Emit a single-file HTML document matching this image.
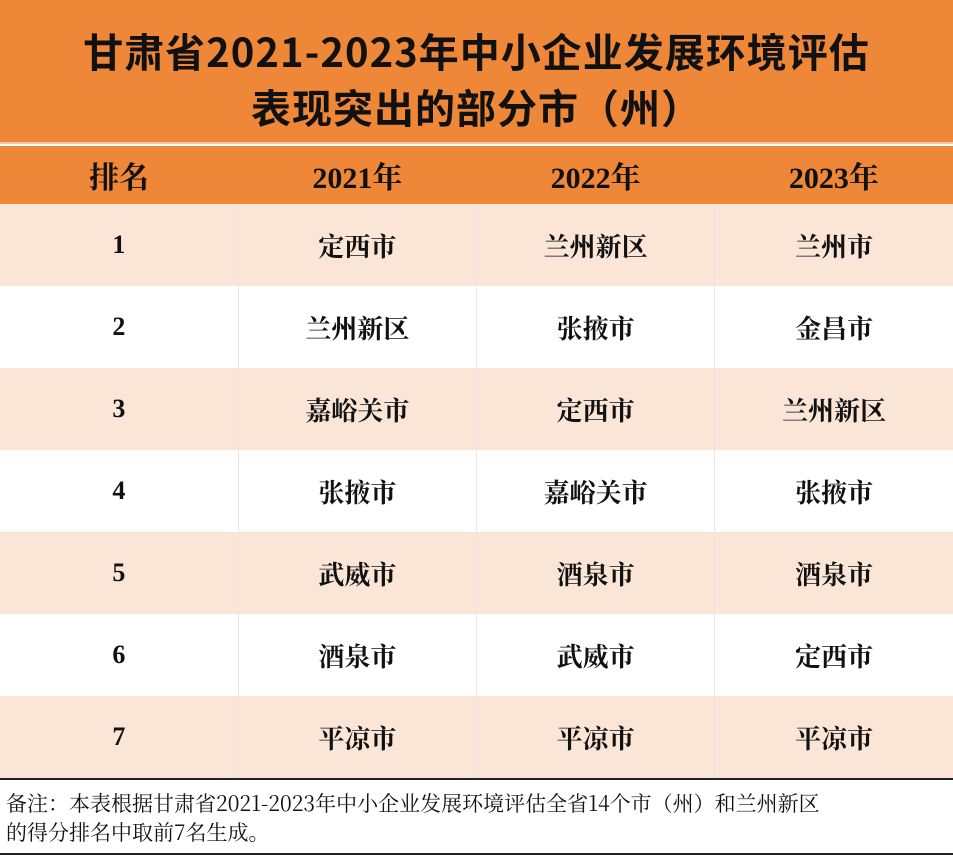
<!DOCTYPE html>
<html><head><meta charset="utf-8"><style>
body{margin:0;width:953px;height:857px;background:#fff;overflow:hidden;font-family:"Liberation Serif","Noto Serif CJK SC",serif}
.title{position:absolute;left:0;top:0;width:953px;height:144px;background:#EF8739;color:#111;font-family:"Noto Sans CJK SC",sans-serif;font-weight:bold;font-size:40px;text-align:center;line-height:56px;padding-top:22px;box-sizing:border-box;border-bottom:2px solid #f6c9a4;letter-spacing:1px}
table{position:absolute;left:0;top:146px;width:953px;border-collapse:collapse;table-layout:fixed}
td,th{text-align:center;font-weight:bold;color:#111;padding:0}
th{height:58px;background:#EF8739;font-size:30px}
td{height:82px;font-size:26px;border-left:1px solid #e6e6e6}
td:first-child{border-left:none}
tr.odd td{background:#FBE5D7}
.note{position:absolute;left:0;top:778px;width:953px;height:77px;border-top:2px solid #222;border-bottom:2px solid #222;font-family:"Noto Serif CJK SC",serif;font-size:21px;line-height:29px;padding:9px 0 0 6px;box-sizing:border-box;color:#111;white-space:nowrap}
</style></head><body>
<div class="title">甘肃省2021-2023年中小企业发展环境评估<br>表现突出的部分市（州）</div>
<table>
<tr><th>排名</th><th>2021年</th><th>2022年</th><th>2023年</th></tr>
<tr class="odd"><td>1</td><td>定西市</td><td>兰州新区</td><td>兰州市</td></tr>
<tr><td>2</td><td>兰州新区</td><td>张掖市</td><td>金昌市</td></tr>
<tr class="odd"><td>3</td><td>嘉峪关市</td><td>定西市</td><td>兰州新区</td></tr>
<tr><td>4</td><td>张掖市</td><td>嘉峪关市</td><td>张掖市</td></tr>
<tr class="odd"><td>5</td><td>武威市</td><td>酒泉市</td><td>酒泉市</td></tr>
<tr><td>6</td><td>酒泉市</td><td>武威市</td><td>定西市</td></tr>
<tr class="odd"><td>7</td><td>平凉市</td><td>平凉市</td><td>平凉市</td></tr>
</table>
<div class="note">备注：本表根据甘肃省2021-2023年中小企业发展环境评估全省14个市（州）和兰州新区<br>的得分排名中取前7名生成。</div>
</body></html>
